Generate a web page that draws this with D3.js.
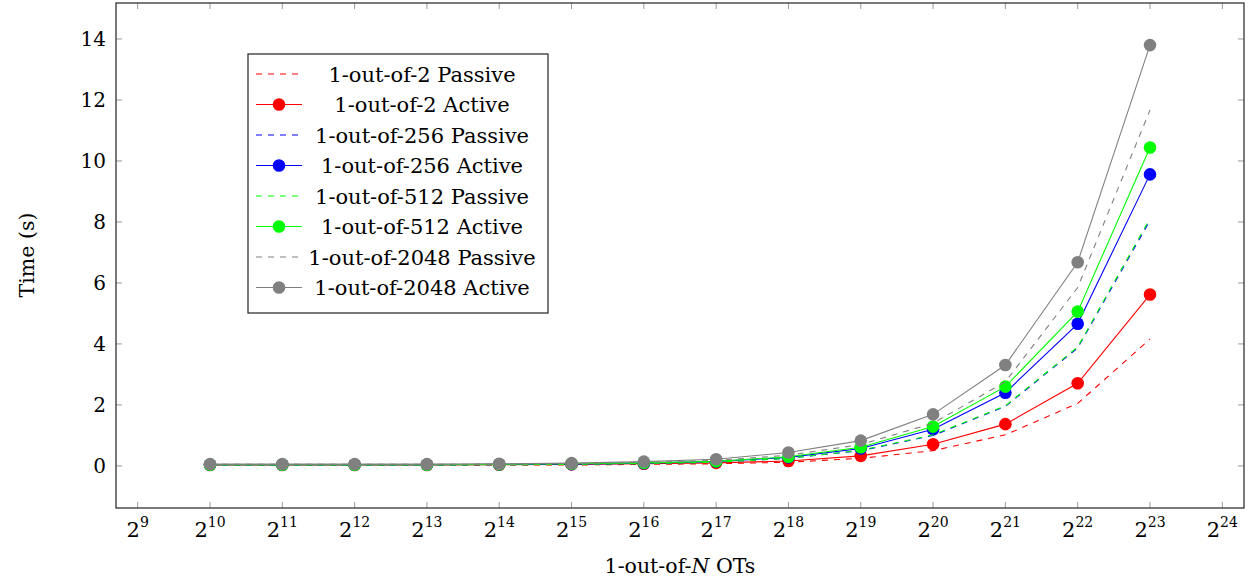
<!DOCTYPE html>
<html lang="en">
<head>
    <meta charset="UTF-8">
    <title>OT timing</title>
    <style>
        body {
            margin: 0;
            background-color: #ffffff;
        }
        svg {
            display: block;
        }
        text {
            font-family: "DejaVu Serif", "Liberation Serif", serif;
            fill: #000;
        }
    </style>
</head>
<body>
    <script src="https://d3js.org/d3.v7.min.js"></script>
    <script>
        const width = 1252;
        const height = 582;

        // x positions are powers of two, stored as exponents
        const exponents = [10, 11, 12, 13, 14, 15, 16, 17, 18, 19, 20, 21, 22, 23];
        const xTicks = [9, 10, 11, 12, 13, 14, 15, 16, 17, 18, 19, 20, 21, 22, 23, 24];
        const yTicks = [0, 2, 4, 6, 8, 10, 12, 14];

        const redPassive   = [0.02, 0.02, 0.02, 0.02, 0.03, 0.03, 0.05, 0.07, 0.12, 0.25, 0.50, 1.02, 2.05, 4.16];
        const redActive    = [0.03, 0.03, 0.03, 0.03, 0.04, 0.05, 0.07, 0.10, 0.16, 0.33, 0.71, 1.37, 2.71, 5.62];
        const bluePassive  = [0.03, 0.03, 0.03, 0.03, 0.04, 0.05, 0.08, 0.12, 0.25, 0.50, 1.00, 1.95, 3.87, 8.05];
        const blueActive   = [0.04, 0.04, 0.04, 0.04, 0.05, 0.06, 0.09, 0.14, 0.28, 0.57, 1.20, 2.40, 4.66, 9.56];
        const greenPassive = [0.03, 0.03, 0.03, 0.03, 0.04, 0.05, 0.08, 0.12, 0.25, 0.51, 1.02, 1.97, 3.90, 8.12];
        const greenActive  = [0.04, 0.04, 0.04, 0.04, 0.05, 0.07, 0.10, 0.15, 0.30, 0.61, 1.29, 2.60, 5.06, 10.44];
        const grayPassive  = [0.05, 0.05, 0.05, 0.05, 0.06, 0.08, 0.12, 0.18, 0.35, 0.70, 1.40, 2.76, 5.85, 11.67];
        const grayActive   = [0.06, 0.06, 0.06, 0.06, 0.07, 0.09, 0.14, 0.22, 0.44, 0.83, 1.69, 3.31, 6.68, 13.80];

        const series = [
            { name: "1-out-of-2 Passive", color: "#ff0000", values: redPassive, active: false },
            { name: "1-out-of-2 Active", color: "#ff0000", values: redActive, active: true },
            { name: "1-out-of-256 Passive", color: "#0000ff", values: bluePassive, active: false },
            { name: "1-out-of-256 Active", color: "#0000ff", values: blueActive, active: true },
            { name: "1-out-of-512 Passive", color: "#00ff00", values: greenPassive, active: false },
            { name: "1-out-of-512 Active", color: "#00ff00", values: greenActive, active: true },
            { name: "1-out-of-2048 Passive", color: "#808080", values: grayPassive, active: false },
            { name: "1-out-of-2048 Active", color: "#808080", values: grayActive, active: true }
        ];

        const plotLeft = 116, plotRight = 1244, plotTop = 3, plotBottom = 508;

        const x = d3.scaleLinear().domain([8.7, 24.3]).range([plotLeft, plotRight]);
        const y = d3.scaleLinear().domain([-1.38, 15.18]).range([plotBottom, plotTop]);

        const svg = d3.select("body")
            .append("svg")
            .attr("width", width)
            .attr("height", height);

        // inner ticks on all four sides, like pgfplots
        const tickColor = "#999";
        const tickLen = 6;

        svg.append("g")
            .selectAll("line")
            .data(xTicks)
            .enter()
            .append("line")
            .attr("x1", d => x(d)).attr("x2", d => x(d))
            .attr("y1", plotBottom).attr("y2", plotBottom - tickLen)
            .attr("stroke", tickColor).attr("stroke-width", 1);

        svg.append("g")
            .selectAll("line")
            .data(xTicks)
            .enter()
            .append("line")
            .attr("x1", d => x(d)).attr("x2", d => x(d))
            .attr("y1", plotTop).attr("y2", plotTop + tickLen)
            .attr("stroke", tickColor).attr("stroke-width", 1);

        svg.append("g")
            .selectAll("line")
            .data(yTicks)
            .enter()
            .append("line")
            .attr("x1", plotLeft).attr("x2", plotLeft + tickLen)
            .attr("y1", d => y(d)).attr("y2", d => y(d))
            .attr("stroke", tickColor).attr("stroke-width", 1);

        svg.append("g")
            .selectAll("line")
            .data(yTicks)
            .enter()
            .append("line")
            .attr("x1", plotRight).attr("x2", plotRight - tickLen)
            .attr("y1", d => y(d)).attr("y2", d => y(d))
            .attr("stroke", tickColor).attr("stroke-width", 1);

        // tick labels
        const xLabels = svg.append("g")
            .selectAll("text")
            .data(xTicks)
            .enter()
            .append("text")
            .attr("x", d => x(d))
            .attr("y", 537)
            .attr("text-anchor", "middle")
            .style("font-size", "21px");
        xLabels.append("tspan").text("2");
        xLabels.append("tspan")
            .attr("dy", -10)
            .style("font-size", "14px")
            .text(d => d);

        svg.append("g")
            .selectAll("text")
            .data(yTicks)
            .enter()
            .append("text")
            .attr("x", 106)
            .attr("y", d => y(d))
            .attr("dy", "0.36em")
            .attr("text-anchor", "end")
            .style("font-size", "20px")
            .text(d => d);

        // axis titles
        const xTitle = svg.append("text")
            .attr("x", 680)
            .attr("y", 573)
            .attr("text-anchor", "middle")
            .style("font-size", "20.5px");
        xTitle.append("tspan").text("1-out-of-");
        xTitle.append("tspan").style("font-style", "italic").text("N");
        xTitle.append("tspan").text(" OTs");

        svg.append("text")
            .attr("transform", "translate(34,255) rotate(-90)")
            .attr("text-anchor", "middle")
            .style("font-size", "20.5px")
            .text("Time (s)");

        // lines and markers
        const line = d3.line()
            .x((d, i) => x(exponents[i]))
            .y(d => y(d));

        series.forEach(s => {
            svg.append("path")
                .datum(s.values)
                .attr("d", line)
                .attr("fill", "none")
                .attr("stroke", s.color)
                .attr("stroke-width", 1.1)
                .attr("stroke-dasharray", s.active ? null : "6,6");

            if (s.active) {
                svg.append("g")
                    .selectAll("circle")
                    .data(s.values)
                    .enter()
                    .append("circle")
                    .attr("cx", (d, i) => x(exponents[i]))
                    .attr("cy", d => y(d))
                    .attr("r", 6.3)
                    .attr("fill", s.color);
            }
        });

        // frame
        svg.append("rect")
            .attr("x", plotLeft).attr("y", plotTop)
            .attr("width", plotRight - plotLeft).attr("height", plotBottom - plotTop)
            .attr("fill", "none")
            .attr("stroke", "#333")
            .attr("stroke-width", 1.3);

        // legend
        const legend = svg.append("g");
        legend.append("rect")
            .attr("x", 248).attr("y", 54)
            .attr("width", 300).attr("height", 259)
            .attr("fill", "#fff")
            .attr("stroke", "#333")
            .attr("stroke-width", 1.3);

        const rows = legend.selectAll("g")
            .data(series)
            .enter()
            .append("g")
            .attr("transform", (d, i) => `translate(0,${74 + i * 30.5})`);

        rows.append("line")
            .attr("x1", 256).attr("x2", 302)
            .attr("y1", 0).attr("y2", 0)
            .attr("stroke", d => d.color)
            .attr("stroke-width", 1.1)
            .attr("stroke-dasharray", d => d.active ? null : "6,6");

        rows.filter(d => d.active)
            .append("circle")
            .attr("cx", 279).attr("cy", 0)
            .attr("r", 6.3)
            .attr("fill", d => d.color);

        rows.append("text")
            .attr("x", 422)
            .attr("y", 0)
            .attr("dy", "0.36em")
            .attr("text-anchor", "middle")
            .style("font-size", "21px")
            .text(d => d.name);
    </script>
</body>
</html>
